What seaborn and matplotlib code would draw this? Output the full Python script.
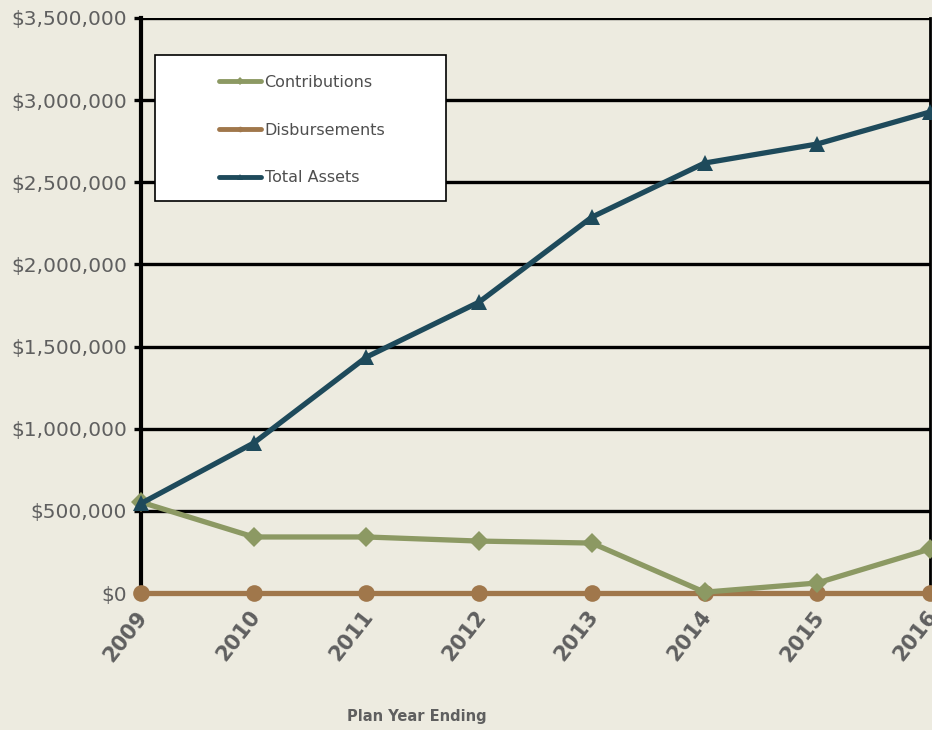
import matplotlib
matplotlib.use("Agg")
import matplotlib.pyplot as plt
import matplotlib.transforms as mtransforms
import seaborn as sns
import pandas as pd
from matplotlib.ticker import FuncFormatter, FixedLocator
from matplotlib.lines import Line2D
from matplotlib.patches import Rectangle

years = [2009, 2010, 2011, 2012, 2013, 2014, 2015, 2016]
contributions = [553000, 341000, 341000, 316000, 304000, 5000, 61000, 268000]
disbursements = [0, 0, 0, 0, 0, 0, 0, 0]
total_assets = [545000, 913000, 1436000, 1771000, 2288000, 2617000, 2733000, 2928000]
series_names = ["Contributions", "Disbursements", "Total Assets"]
y_ticks = [0, 500000, 1000000, 1500000, 2000000, 2500000, 3000000, 3500000]

df = pd.DataFrame({
    "Year": years * 3,
    "Value": contributions + disbursements + total_assets,
    "Series": [series_names[0]] * 8 + [series_names[1]] * 8 + [series_names[2]] * 8,
})

bg = "#EDEBE0"
colors = {"Contributions": "#8C9963", "Disbursements": "#A0774B", "Total Assets": "#1E4A5B"}
markers = {"Contributions": "D", "Disbursements": "o", "Total Assets": "^"}
msizes = {"Contributions": 10, "Disbursements": 12, "Total Assets": 12}

sns.set_theme(style="white")
plt.rcParams["font.family"] = ["DejaVu Sans"]

fig = plt.figure(figsize=(9.32, 7.3), dpi=100, facecolor=bg)
ax = fig.add_axes([141/932, 1 - 593/730, (930 - 141)/932, (593 - 18)/730])
ax.set_facecolor(bg)

for t in y_ticks:
    ax.axhline(t, color="black", lw=2.4, zorder=1)

order = ["Disbursements", "Contributions", "Total Assets"]
for name in order:
    sub = df[df["Series"] == name]
    sns.lineplot(data=sub, x="Year", y="Value", ax=ax, color=colors[name],
                 marker=markers[name], markersize=msizes[name], markeredgewidth=0,
                 lw=3.8, clip_on=False, zorder=3, legend=False)

ax.set_xlim(2009, 2016)
ax.set_ylim(0, 3500000)
ax.yaxis.set_major_locator(FixedLocator(y_ticks))
ax.set_xticks(years)
ax.yaxis.set_major_formatter(FuncFormatter(lambda v, p: "${:,.0f}".format(v)))
ax.tick_params(axis="y", which="major", left=True, length=5, width=2.4, color="black",
               labelsize=14.5, labelcolor="#5F5F5F", pad=5)
ax.tick_params(axis="x", bottom=False, labelsize=15, labelcolor="#5F5F5F", pad=4)
offset = mtransforms.ScaledTranslation(-5/100, 0, fig.dpi_scale_trans)
for lab in ax.get_xticklabels():
    lab.set_rotation(52)
    lab.set_ha("right")
    lab.set_va("top")
    lab.set_fontweight("bold")
    lab.set_rotation_mode("anchor")
    lab.set_transform(lab.get_transform() + offset)

for s in ["top", "bottom"]:
    ax.spines[s].set_visible(False)
ax.spines["left"].set_color("black")
ax.spines["left"].set_linewidth(3)
ax.spines["right"].set_color("black")
ax.spines["right"].set_linewidth(2)
ax.set_xlabel("")
ax.set_ylabel("")

fig.text(417/932, 1 - 717/730, "Plan Year Ending", ha="center", va="center",
         fontsize=10.5, fontweight="bold", color="#5F5F5F")

# legend frame
x0 = (155 - 141) / 789
x1 = (446 - 141) / 789
y0 = 1 - (201 - 18) / 575
y1 = 1 - (55 - 18) / 575
ax.add_patch(Rectangle((x0, y0), x1 - x0, y1 - y0, transform=ax.transAxes,
                       facecolor="white", edgecolor="black", lw=1.2, zorder=4,
                       clip_on=False))

handles = [Line2D([], [], color=colors[n], marker=markers[n], markersize=4, lw=3.5,
                  markeredgewidth=0) for n in series_names]
leg = ax.legend(handles, series_names, loc="upper left",
                bbox_to_anchor=((219 - 141) / 789, 1 - (75 - 18) / 575),
                frameon=False, fontsize=11.5, labelcolor="#4F4F4F",
                handlelength=2.6, handletextpad=0.25, labelspacing=2.05,
                borderpad=0, borderaxespad=0)
leg.set_zorder(5)

fig.savefig("out.png", dpi=100, facecolor=bg)
